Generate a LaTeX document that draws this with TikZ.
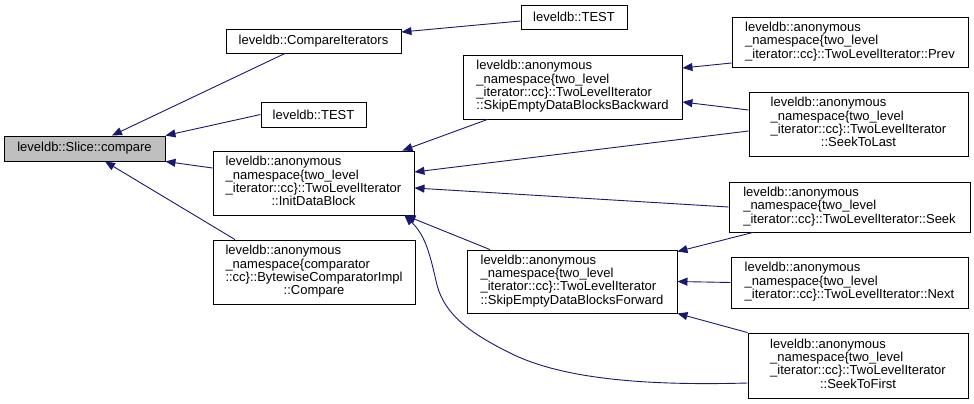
\documentclass[tikz,border=0pt]{standalone}
\usepackage{fontspec}
\setmainfont{Liberation Sans}
\usetikzlibrary{arrows.meta,calc}
\definecolor{edgeblue}{HTML}{191970}
\definecolor{hlgray}{HTML}{BFBFBF}
\newcommand{\mlbox}[2]{\begin{tabular}{@{}l@{}}#1\\\multicolumn{1}{@{}c@{}}{#2}\end{tabular}}
\begin{document}
\begin{tikzpicture}[x=1pt,y=-1pt,
  fn/.style={draw=black,line width=0.9pt,fill=white,inner sep=0pt,font=\fontsize{13}{13}\selectfont,text=black},
  edge/.style={draw=edgeblue,line width=0.9pt,-{Triangle[length=10pt,width=8pt]},fill=none}]
\useasboundingbox (0,0) rectangle (974,404);
\fill[white] (0,0) rectangle (974,404);

\node[fn,fill=hlgray,minimum width=161pt,minimum height=25pt] (compare) at (84.5,148.5) {leveldb::Slice::compare};
\node[fn,minimum width=175pt,minimum height=24pt] (cmpit) at (313.5,41) {leveldb::CompareIterators};
\node[fn,minimum width=106pt,minimum height=24pt] (test1) at (574,17) {leveldb::TEST};
\node[fn,minimum width=105pt,minimum height=25pt] (test2) at (313.5,114.5) {leveldb::TEST};
\node[fn,minimum width=201pt,minimum height=64pt] (init) at (313.5,183)
  {\mlbox{leveldb::anonymous\\\_namespace\{two\_level\\\_iterator::cc\}::TwoLevelIterator}{::InitDataBlock}};
\node[fn,minimum width=202pt,minimum height=64pt] (bytewise) at (314,272)
  {\mlbox{leveldb::anonymous\\\_namespace\{comparator\\::cc\}::BytewiseComparatorImpl}{::Compare}};
\node[fn,minimum width=219pt,minimum height=64pt] (skipb) at (572.5,87)
  {\mlbox{leveldb::anonymous\\\_namespace\{two\_level\\\_iterator::cc\}::TwoLevelIterator}{::SkipEmptyDataBlocksBackward}};
\node[fn,minimum width=210pt,minimum height=63pt] (skipf) at (572,281.5)
  {\mlbox{leveldb::anonymous\\\_namespace\{two\_level\\\_iterator::cc\}::TwoLevelIterator}{::SkipEmptyDataBlocksForward}};
\node[fn,minimum width=236pt,minimum height=50pt] (prev) at (850,42)
  {\mlbox{leveldb::anonymous\\\_namespace\{two\_level}{\_iterator::cc\}::TwoLevelIterator::Prev}};
\node[fn,minimum width=219pt,minimum height=64pt] (seektolast) at (858.5,124)
  {\mlbox{leveldb::anonymous\\\_namespace\{two\_level\\\_iterator::cc\}::TwoLevelIterator}{::SeekToLast}};
\node[fn,minimum width=241pt,minimum height=50pt] (seek) at (849.5,207)
  {\mlbox{leveldb::anonymous\\\_namespace\{two\_level}{\_iterator::cc\}::TwoLevelIterator::Seek}};
\node[fn,minimum width=237pt,minimum height=51pt] (next) at (849.5,282.5)
  {\mlbox{leveldb::anonymous\\\_namespace\{two\_level}{\_iterator::cc\}::TwoLevelIterator::Next}};
\node[fn,minimum width=220pt,minimum height=65pt] (seektofirst) at (858,365.5)
  {\mlbox{leveldb::anonymous\\\_namespace\{two\_level\\\_iterator::cc\}::TwoLevelIterator}{::SeekToFirst}};

\draw[edge] ($(cmpit.south)+(-28.5,0)$) -- ($(compare.north)+(27.5,0)$);
\draw[edge] (test2.west) -- (compare.north east);
\draw[edge] ($(init.west)+(0,-15)$) -- (compare.south east);
\draw[edge] ($(bytewise.north)+(-79,0)$) -- ($(compare.south)+(20.5,0)$);
\draw[edge] ($(test1.west)+(0,4)$) -- ($(cmpit.east)+(0,-9)$);
\draw[edge] ($(skipb.south)+(-85,0)$) -- ($(init.north east)+(-12,0)$);
\draw[edge] ($(seektolast.west)+(0,7)$) -- ($(init.east)+(0,-11)$);
\draw[edge] (seek.west) -- ($(init.east)+(0,5)$);
\draw[edge] ($(skipf.north)+(-82,0)$) -- ($(init.south east)+(-9,0)$);
\draw[edge] ($(seektofirst.west)+(0,17.5)$) .. controls (640,386) and (560,378) .. (510,353)
   .. controls (470,333) and (445,315) .. (437,285)
   .. controls (430,255) and (426,236) .. ($(init.south east)+(-10,0)$);
\draw[edge] ($(prev.west)+(0,21)$) -- ($(skipb.east)+(0,-19)$);
\draw[edge] ($(seektolast.west)+(0,-14)$) -- ($(skipb.east)+(0,15)$);
\draw[edge] ($(seek.south)+(-96.5,0)$) -- ($(skipf.north east)+(0,2)$);
\draw[edge] (next.west) -- (skipf.east);
\draw[edge] (seektofirst.north west) -- (skipf.south east);
\end{tikzpicture}
\end{document}
